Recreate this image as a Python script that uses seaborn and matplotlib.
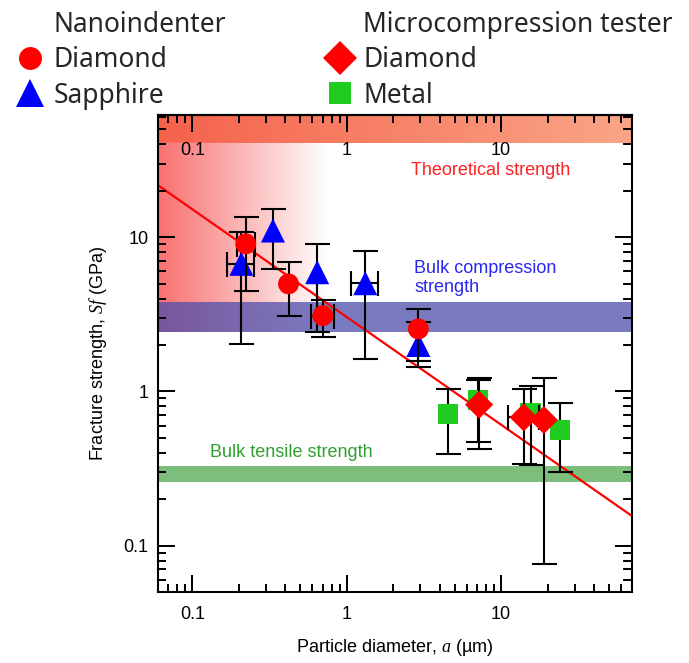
import numpy as np
import matplotlib
matplotlib.use("Agg")
import matplotlib.pyplot as plt
from matplotlib.lines import Line2D
from matplotlib.font_manager import FontProperties
from matplotlib.ticker import FuncFormatter, NullFormatter, LogLocator
import seaborn as sns

# ---- Nanoindenter, diamond particles (circles) ----
nano_dia_x = [0.222, 0.42, 0.70, 2.91]
nano_dia_y = [9.06, 4.98, 3.10, 2.54]
nano_dia_ylo = [4.5, 3.1, 2.24, 1.58]
nano_dia_yhi = [13.6, 6.88, 3.92, 3.43]
nano_dia_xlo = [0.194, np.nan, 0.589, np.nan]
nano_dia_xhi = [0.254, np.nan, 0.824, np.nan]

# ---- Nanoindenter, sapphire particles (triangles) ----
nano_sap_x = [0.208, 0.333, 0.644, 1.32, 2.91]
nano_sap_y = [6.72, 11.05, 5.93, 5.03, 2.0]
nano_sap_ylo = [2.03, 6.24, 2.42, 1.62, 1.43]
nano_sap_yhi = [10.8, 15.3, 9.06, 8.08, 2.8]
nano_sap_xlo = [0.169, np.nan, np.nan, 1.07, np.nan]
nano_sap_xhi = [0.251, np.nan, np.nan, 1.585, np.nan]

# ---- Microcompression tester, diamond particles (diamonds) ----
micro_dia_x = [7.2, 14.0, 18.9]
micro_dia_y = [0.82, 0.678, 0.652]
micro_dia_ylo = [0.423, 0.338, 0.0757]
micro_dia_yhi = [1.23, 1.04, 1.23]
micro_dia_xlo = [np.nan, 11.05, np.nan]
micro_dia_xhi = [np.nan, 17.7, np.nan]

# ---- Microcompression tester, metal particles (squares) ----
micro_met_x = [4.53, 7.11, 15.5, 23.9]
micro_met_y = [0.713, 0.879, 0.72, 0.561]
micro_met_ylo = [0.392, 0.471, 0.333, 0.298]
micro_met_yhi = [1.04, 1.186, 1.09, 0.836]

# ---- Size-effect trend line (end points) ----
trend_x = [0.06, 70]
trend_y = [21.7, 0.156]

# ---- Reference strength ranges (GPa) ----
theoretical_range = [41, 62]
size_effect_fade_x = 0.75
compression_range = [2.42, 3.78]
tensile_range = [0.257, 0.33]

# ---- Axes ----
x_limits = [0.06, 70]
y_limits = [0.05, 62]
major_len, minor_len, tick_w = 12, 6, 1.3

sns.set_theme(style="ticks")
plt.rcParams.update({
    "font.family": ["Liberation Sans", "DejaVu Sans"],
    "mathtext.fontset": "custom",
    "mathtext.it": "Liberation Serif:italic",
    "mathtext.rm": "Liberation Sans",
    "axes.linewidth": 1.5,
    "axes.edgecolor": "black",
    "axes.axisbelow": False,
    "xtick.color": "black",
    "ytick.color": "black",
    "xtick.direction": "in",
    "ytick.direction": "in",
    "xtick.bottom": True,
    "xtick.top": True,
    "ytick.left": True,
    "ytick.right": True,
    "xtick.major.size": major_len,
    "ytick.major.size": major_len,
    "xtick.minor.size": minor_len,
    "ytick.minor.size": minor_len,
    "xtick.major.width": tick_w,
    "ytick.major.width": tick_w,
    "xtick.minor.width": tick_w,
    "ytick.minor.width": tick_w,
    "xtick.labelsize": 13,
    "ytick.labelsize": 13,
})

fig = plt.figure(figsize=(6.89, 6.63), dpi=100, facecolor="white")
ax = fig.add_axes([0.2293, 0.1071, 0.6875, 0.7194])
ax.set_xscale("log")
ax.set_yscale("log")
ax.set_xlim(x_limits)
ax.set_ylim(y_limits)


def to_axes(x, y):
    return (ax.transScale + ax.transLimits).transform((x, y))


# shaded "theoretical strength" strip along the top
_, ty0 = to_axes(1, theoretical_range[0])
strip = np.zeros((1, 256, 4))
c_left = np.array([245, 98, 75]) / 255
c_right = np.array([250, 165, 135]) / 255
t = np.linspace(0, 1, 256)
strip[0, :, :3] = c_left[None, :] * (1 - t[:, None]) + c_right[None, :] * t[:, None]
strip[0, :, 3] = 1.0
ax.imshow(strip, extent=[0, 1, ty0, 1], transform=ax.transAxes,
          aspect="auto", interpolation="bilinear", zorder=0.3)

# red fade for the small-particle region
fx1, gy1 = to_axes(size_effect_fade_x, theoretical_range[0])
_, gy0 = to_axes(1, compression_range[0])
fade = np.zeros((1, 256, 4))
fade[0, :, :3] = np.array([248, 112, 112]) / 255
fade[0, :, 3] = np.linspace(1, 0, 256)
ax.imshow(fade, extent=[0, fx1, gy0, gy1], transform=ax.transAxes,
          aspect="auto", interpolation="bilinear", zorder=0.3)

ax.axhspan(*compression_range, color=(78 / 255, 78 / 255, 171 / 255), alpha=0.75,
           lw=0, zorder=0.6)
ax.axhspan(*tensile_range, color="#7dbe7d", lw=0, zorder=0.6)

sns.lineplot(x=trend_x, y=trend_y, color="red", lw=1.6, ax=ax, zorder=1.5)


def error_bars(x, y, ylo, yhi, xlo=None, xhi=None, z=2.0):
    x, y = np.asarray(x, float), np.asarray(y, float)
    ylo, yhi = np.asarray(ylo, float), np.asarray(yhi, float)
    style = dict(fmt="none", ecolor="black", elinewidth=1.5, capsize=9,
                 capthick=1.5, zorder=z)
    ax.errorbar(x, y, yerr=[y - ylo, yhi - y], **style)
    if xlo is not None:
        xlo, xhi = np.asarray(xlo, float), np.asarray(xhi, float)
        m = np.isfinite(xlo)
        ax.errorbar(x[m], y[m], xerr=[x[m] - xlo[m], xhi[m] - x[m]], **style)


error_bars(nano_sap_x, nano_sap_y, nano_sap_ylo, nano_sap_yhi,
           nano_sap_xlo, nano_sap_xhi, z=2.0)
sns.scatterplot(x=nano_sap_x, y=nano_sap_y, marker="^", s=300, color="#0000ff",
                edgecolor="none", linewidth=0, ax=ax, zorder=2.2, legend=False)
error_bars(nano_dia_x, nano_dia_y, nano_dia_ylo, nano_dia_yhi,
           nano_dia_xlo, nano_dia_xhi, z=2.4)
sns.scatterplot(x=nano_dia_x, y=nano_dia_y, marker="o", s=225, color="#ff0000",
                edgecolor="none", linewidth=0, ax=ax, zorder=2.6, legend=False)

error_bars(micro_met_x, micro_met_y, micro_met_ylo, micro_met_yhi, z=2.0)
sns.scatterplot(x=micro_met_x, y=micro_met_y, marker="s", s=210, color="#1ecb1e",
                edgecolor="none", linewidth=0, ax=ax, zorder=2.2, legend=False)
error_bars(micro_dia_x, micro_dia_y, micro_dia_ylo, micro_dia_yhi,
           micro_dia_xlo, micro_dia_xhi, z=2.4)
sns.scatterplot(x=micro_dia_x, y=micro_dia_y, marker="D", s=205, color="#ff0000",
                edgecolor="none", linewidth=0, ax=ax, zorder=2.6, legend=False)

ax.text(2.61, 27.1, "Theoretical strength", color="#ff2020", fontsize=13,
        ha="left", va="center", zorder=3)
ax.text(2.73, 5.47, "Bulk compression\nstrength", color="#2828f0", fontsize=13,
        ha="left", va="center", linespacing=1.15, zorder=3)
ax.text(0.13, 0.402, "Bulk tensile strength", color="#2ea02e", fontsize=13,
        ha="left", va="center", zorder=3)

# decade labels as plain numbers; nothing outside the visible range
fmt = FuncFormatter(lambda v, _: f"{v:g}" if x_limits[0] <= v <= x_limits[1] else "")
yfmt = FuncFormatter(lambda v, _: f"{v:g}" if y_limits[0] <= v <= y_limits[1] else "")
for axis, f in ((ax.xaxis, fmt), (ax.yaxis, yfmt)):
    axis.set_major_locator(LogLocator(base=10))
    axis.set_major_formatter(f)
    axis.set_minor_locator(LogLocator(base=10, subs=np.arange(2, 10), numticks=20))
    axis.set_minor_formatter(NullFormatter())

ax.tick_params(axis="x", which="major", pad=10)
ax.tick_params(axis="y", which="major", pad=7)

# secondary scale along the top edge, labelled inside the frame
top = ax.secondary_xaxis("top")
top.set_xscale("log")
top.xaxis.set_major_locator(LogLocator(base=10))
top.xaxis.set_major_formatter(fmt)
top.xaxis.set_minor_locator(LogLocator(base=10, subs=np.arange(2, 10), numticks=20))
top.xaxis.set_minor_formatter(NullFormatter())
top.tick_params(axis="x", which="major", pad=-32)
top.set_zorder(0.35)
ax.tick_params(axis="x", which="both", top=False)

ax.set_xlabel("Particle diameter, $a$ (µm)", fontsize=13, labelpad=10, color="black")
ax.set_ylabel("Fracture strength, $Sf$ (GPa)", fontsize=13, labelpad=10, color="black")
ax.set_xlim(x_limits)
ax.set_ylim(y_limits)
ax.grid(False)

# inward tick segments on all four edges at the locator positions,
# with lengths converted from points to fractions of the frame
pos = ax.get_position()
w_pt = pos.width * fig.get_figwidth() * 72
h_pt = pos.height * fig.get_figheight() * 72
x_in_range = lambda v: v[(v >= x_limits[0]) & (v <= x_limits[1])]
y_in_range = lambda v: v[(v >= y_limits[0]) & (v <= y_limits[1])]
for locs, length in ((ax.xaxis.get_majorticklocs(), major_len),
                     (ax.xaxis.get_minorticklocs(), minor_len)):
    locs = x_in_range(np.asarray(locs))
    frac = length / h_pt
    tr = ax.get_xaxis_transform()
    ax.vlines(locs, 0, frac, transform=tr, colors="black", lw=tick_w, zorder=2.7)
    ax.vlines(locs, 1 - frac, 1, transform=tr, colors="black", lw=tick_w, zorder=2.7)
for locs, length in ((ax.yaxis.get_majorticklocs(), major_len),
                     (ax.yaxis.get_minorticklocs(), minor_len)):
    locs = y_in_range(np.asarray(locs))
    frac = length / w_pt
    tr = ax.get_yaxis_transform()
    ax.hlines(locs, 0, frac, transform=tr, colors="black", lw=tick_w, zorder=2.7)
    ax.hlines(locs, 1 - frac, 1, transform=tr, colors="black", lw=tick_w, zorder=2.7)
ax.set_xlim(x_limits)
ax.set_ylim(y_limits)

# legend blocks, one per test instrument
leg_font = FontProperties(family="Noto Sans", size=19)
blank = Line2D([], [], linestyle="none")
nano_handles = [blank,
                Line2D([], [], linestyle="none", marker="o", markersize=16.5,
                       color="#ff0000", markeredgewidth=0),
                Line2D([], [], linestyle="none", marker="^", markersize=20,
                       color="#0000ff", markeredgewidth=0)]
micro_handles = [blank,
                 Line2D([], [], linestyle="none", marker="D", markersize=17,
                        color="#ff0000", markeredgewidth=0),
                 Line2D([], [], linestyle="none", marker="s", markersize=16,
                        color="#1ecb1e", markeredgewidth=0)]
common = dict(loc="upper left", frameon=False, prop=leg_font, handlelength=1.0,
              handletextpad=0.37, borderpad=0, borderaxespad=0, labelspacing=0.27)
fig.legend(nano_handles, ["Nanoindenter", "Diamond", "Sapphire"],
           bbox_to_anchor=(0.0247, 0.983), **common)
fig.legend(micro_handles, ["Microcompression tester", "Diamond", "Metal"],
           bbox_to_anchor=(0.4746, 0.983), **common)

fig.savefig("out.png", dpi=100, facecolor="white")
